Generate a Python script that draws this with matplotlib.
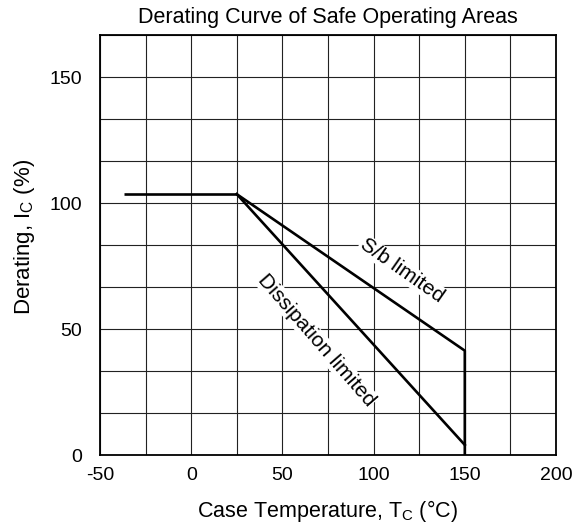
import matplotlib
matplotlib.use("Agg")
import matplotlib.pyplot as plt
import numpy as np

plt.rcParams['font.family'] = ['Liberation Sans', 'DejaVu Sans']
plt.rcParams['mathtext.fontset'] = 'custom'
plt.rcParams['mathtext.rm'] = 'Liberation Sans'
plt.rcParams['mathtext.it'] = 'Liberation Sans'
plt.rcParams['axes.unicode_minus'] = False

# Data
flat_x = [-37, 25]
flat_y = [103.5, 103.5]
sb_x = [25, 150, 150]
sb_y = [103.5, 41.4, 0]
diss_x = [25, 150]
diss_y = [103.5, 4.0]

x_ticks = [-50, 0, 50, 100, 150, 200]
y_ticks = [0, 50, 100, 150]
x_grid = np.arange(-50, 201, 25)
y_grid = np.arange(0, 11) * 50 / 3

fig = plt.figure(figsize=(5.86, 5.27), dpi=100)
ax = fig.add_axes([100/586, (527-455)/527, 456/586, 420/527])

ax.set_xlim(-50, 200)
ax.set_ylim(0, 500/3)
ax.set_xticks(x_ticks)
ax.set_yticks(y_ticks)
for gx in x_grid:
    ax.axvline(gx, color='#222222', linewidth=0.8, zorder=1)
for gy in y_grid:
    ax.axhline(gy, color='#222222', linewidth=0.8, zorder=1)
ax.tick_params(axis='both', length=0, labelsize=14)
ax.tick_params(axis='y', pad=13)
ax.tick_params(axis='x', pad=9)
for s in ax.spines.values():
    s.set_linewidth(1.3)
    s.set_zorder(3)

ax.plot(flat_x, flat_y, color='black', linewidth=1.9, solid_capstyle='butt', zorder=2)
ax.plot(sb_x, sb_y, color='black', linewidth=1.9, zorder=2)
ax.plot(diss_x, diss_y, color='black', linewidth=1.9, zorder=2)

ax.text(115.4, 73.4, 'S/b limited', rotation=-35, ha='center', va='center',
        fontsize=15, rotation_mode='anchor', zorder=4,
        bbox=dict(facecolor='white', edgecolor='none', pad=0.5))
ax.text(68.8, 45.6, 'Dissipation limited', rotation=-49, ha='center', va='center',
        fontsize=15, rotation_mode='anchor', zorder=4,
        bbox=dict(facecolor='white', edgecolor='none', pad=0.5))

ax.set_title('Derating Curve of Safe Operating Areas', fontsize=15.5, pad=9)
ax.set_xlabel(r'Case Temperature, T$_{\mathrm{C}}$ (°C)', fontsize=15.5, labelpad=10)
ax.set_ylabel(r'Derating, I$_{\mathrm{C}}$ (%)', fontsize=16)
ax.yaxis.set_label_coords(-0.138, 0.52)

fig.savefig('out.png', dpi=100)
